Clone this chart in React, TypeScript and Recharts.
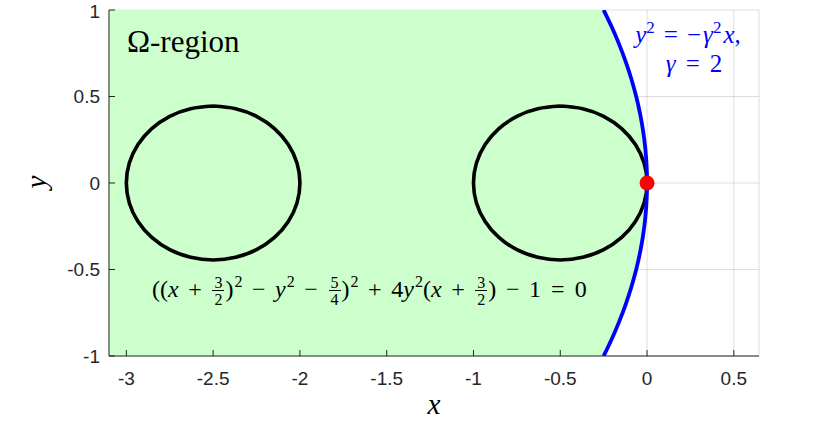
import {
  Area,
  CartesianGrid,
  ComposedChart,
  Line,
  Scatter,
  XAxis,
  YAxis,
} from "recharts";

const xTicks = [-3, -2.5, -2, -1.5, -1, -0.5, 0, 0.5];
const yTicks = [-1, -0.5, 0, 0.5, 1];

// upper half of the boundary y^2 = -4x, read from top (y = 1) to the origin
const parabolaX = [-0.25, -0.2025, -0.16, -0.1225, -0.09, -0.0625, -0.04, -0.0225, -0.01, -0.0025, 0];
const parabolaY = [1, 0.9, 0.8, 0.7, 0.6, 0.5, 0.4, 0.3, 0.2, 0.1, 0];

// closed curves, traced clockwise from the top
const leftOval = [
  { x: -2.5, y: 0.445 },
  { x: -2.3706, y: 0.4298 },
  { x: -2.25, y: 0.3854 },
  { x: -2.1464, y: 0.3147 },
  { x: -2.067, y: 0.2225 },
  { x: -2.017, y: 0.1152 },
  { x: -2.0, y: 0 },
  { x: -2.017, y: -0.1152 },
  { x: -2.067, y: -0.2225 },
  { x: -2.1464, y: -0.3147 },
  { x: -2.25, y: -0.3854 },
  { x: -2.3706, y: -0.4298 },
  { x: -2.5, y: -0.445 },
  { x: -2.6294, y: -0.4298 },
  { x: -2.75, y: -0.3854 },
  { x: -2.8536, y: -0.3147 },
  { x: -2.933, y: -0.2225 },
  { x: -2.983, y: -0.1152 },
  { x: -3.0, y: 0 },
  { x: -2.983, y: 0.1152 },
  { x: -2.933, y: 0.2225 },
  { x: -2.8536, y: 0.3147 },
  { x: -2.75, y: 0.3854 },
  { x: -2.6294, y: 0.4298 },
  { x: -2.5, y: 0.445 },
];

const rightOval = [
  { x: -0.5, y: 0.445 },
  { x: -0.3706, y: 0.4298 },
  { x: -0.25, y: 0.3854 },
  { x: -0.1464, y: 0.3147 },
  { x: -0.067, y: 0.2225 },
  { x: -0.017, y: 0.1152 },
  { x: 0, y: 0 },
  { x: -0.017, y: -0.1152 },
  { x: -0.067, y: -0.2225 },
  { x: -0.1464, y: -0.3147 },
  { x: -0.25, y: -0.3854 },
  { x: -0.3706, y: -0.4298 },
  { x: -0.5, y: -0.445 },
  { x: -0.6294, y: -0.4298 },
  { x: -0.75, y: -0.3854 },
  { x: -0.8536, y: -0.3147 },
  { x: -0.933, y: -0.2225 },
  { x: -0.983, y: -0.1152 },
  { x: -1.0, y: 0 },
  { x: -0.983, y: 0.1152 },
  { x: -0.933, y: 0.2225 },
  { x: -0.8536, y: 0.3147 },
  { x: -0.75, y: 0.3854 },
  { x: -0.6294, y: 0.4298 },
  { x: -0.5, y: 0.445 },
];

const touchPoint = [{ x: 0, y: 0 }];

const X_DOMAIN: [number, number] = [-3.1, 0.645];

const parabola = [
  ...parabolaX.map((x, i) => ({ x, y: parabolaY[i] })),
  ...parabolaX
    .slice(0, -1)
    .reverse()
    .map((x, i, arr) => ({ x, y: -parabolaY[arr.length - 1 - i] })),
];

const region = [
  { x: X_DOMAIN[0], band: [-1, 1] },
  ...parabolaX.map((x, i) => ({ x, band: [-parabolaY[i], parabolaY[i]] })),
];

const axisColor = "#262626";
const tickFont = { fontSize: 19, fontFamily: "'Liberation Sans', Arial, sans-serif", fill: axisColor };
const serif = "'Liberation Serif', 'Times New Roman', serif";

function Frac({ n, d }: { n: string; d: string }) {
  return (
    <span
      style={{
        display: "inline-flex",
        flexDirection: "column",
        alignItems: "center",
        verticalAlign: "9px",
        fontSize: 16,
        lineHeight: "13px",
        margin: "0 1px",
      }}
    >
      <span style={{ borderBottom: "0.8px solid #000", padding: "0 2px 1.4px" }}>{n}</span>
      <span style={{ paddingTop: 1.4 }}>{d}</span>
    </span>
  );
}

const Sup = ({ children }: { children: string }) => (
  <span style={{ fontSize: 16, verticalAlign: "10px", marginLeft: 1 }}>{children}</span>
);
const Op = ({ children, w = "0.4em" }: { children: string; w?: string }) => (
  <span style={{ margin: `0 ${w}` }}>{children}</span>
);

export default function App() {
  return (
    <div style={{ position: "absolute", left: 0, top: 0, width: 838, height: 423, background: "#fff" }}>
      <ComposedChart width={838} height={423} margin={{ top: 10, right: 79, bottom: 0, left: 0 }}>
        <XAxis
          dataKey="x"
          type="number"
          domain={X_DOMAIN}
          allowDataOverflow
          ticks={xTicks}
          tickFormatter={(v) => String(v)}
          height={67}
          tickSize={-6}
          tickMargin={22}
          axisLine={{ stroke: axisColor }}
          tickLine={{ stroke: axisColor }}
          tick={tickFont}
        />
        <XAxis
          xAxisId="top"
          orientation="top"
          dataKey="x"
          type="number"
          domain={X_DOMAIN}
          allowDataOverflow
          ticks={xTicks}
          height={0}
          tickSize={-6}
          tick={false}
          axisLine={{ stroke: axisColor }}
          tickLine={{ stroke: axisColor }}
        />
        <YAxis
          type="number"
          domain={[-1, 1]}
          allowDataOverflow
          ticks={yTicks}
          tickFormatter={(v) => String(v)}
          width={109}
          tickSize={-6}
          tickMargin={15}
          axisLine={{ stroke: axisColor }}
          tickLine={{ stroke: axisColor }}
          tick={tickFont}
        />
        <YAxis
          yAxisId="right"
          orientation="right"
          type="number"
          domain={[-1, 1]}
          allowDataOverflow
          ticks={yTicks}
          width={0}
          tickSize={-6}
          tick={false}
          axisLine={{ stroke: axisColor }}
          tickLine={{ stroke: axisColor }}
        />
        <Area
          data={region}
          dataKey="band"
          type="linear"
          fill="#ccffcc"
          fillOpacity={1}
          stroke="none"
          isAnimationActive={false}
        />
        <CartesianGrid stroke="#000" strokeOpacity={0.13} fill="none" />
        <Line
          data={leftOval}
          dataKey="y"
          type="natural"
          stroke="#000"
          strokeWidth={3.6}
          dot={false}
          activeDot={false}
          isAnimationActive={false}
        />
        <Line
          data={rightOval}
          dataKey="y"
          type="natural"
          stroke="#000"
          strokeWidth={3.6}
          dot={false}
          activeDot={false}
          isAnimationActive={false}
        />
        <Line
          data={parabola}
          dataKey="y"
          type="natural"
          stroke="#0000ff"
          strokeWidth={3.8}
          dot={false}
          activeDot={false}
          isAnimationActive={false}
        />
        <Scatter
          data={touchPoint}
          dataKey="y"
          fill="#ff0000"
          isAnimationActive={false}
          shape={(p: any) => <circle cx={p.cx} cy={p.cy} r={7.5} fill="#ff0000" />}
        />
      </ComposedChart>

      <svg
        width={838}
        height={423}
        style={{ position: "absolute", left: 0, top: 0, pointerEvents: "none" }}
      >
        <text x={127} y={52} fontFamily={serif} fontSize={31} fill="#000">
          Ω-region
        </text>
        <text x={688} y={43} textAnchor="middle" fontFamily={serif} fontSize={25} fill="#0000ff">
          <tspan fontStyle="italic">y</tspan>
          <tspan fontSize={17} dy={-10}>2</tspan>
          <tspan dy={10} dx={9}>=</tspan>
          <tspan dx={9}>−</tspan>
          <tspan fontStyle="italic" dx={2}>γ</tspan>
          <tspan fontSize={17} dy={-10}>2</tspan>
          <tspan dy={10} fontStyle="italic" dx={2}>x</tspan>
          <tspan>,</tspan>
        </text>
        <text x={694} y={72} textAnchor="middle" fontFamily={serif} fontSize={25} fill="#0000ff">
          <tspan fontStyle="italic">γ</tspan>
          <tspan dx={10}>=</tspan>
          <tspan dx={10}>2</tspan>
        </text>
        <text x={434} y={414} textAnchor="middle" fontFamily={serif} fontSize={29} fontStyle="italic" fill="#000">
          x
        </text>
        <text
          transform="translate(46,182) rotate(-90)"
          textAnchor="middle"
          fontFamily={serif}
          fontSize={29}
          fontStyle="italic"
          fill="#000"
        >
          y
        </text>
      </svg>

      <div
        style={{
          position: "absolute",
          left: 152,
          top: 267,
          fontFamily: serif,
          fontSize: 24,
          lineHeight: "30px",
          whiteSpace: "nowrap",
          color: "#000",
        }}
      >
        ((<i>x</i>
        <Op>+</Op>
        <Frac n="3" d="2" />)<Sup>2</Sup>
        <Op>−</Op>
        <i>y</i>
        <Sup>2</Sup>
        <Op>−</Op>
        <Frac n="5" d="4" />)<Sup>2</Sup>
        <Op>+</Op>4<i>y</i>
        <Sup>2</Sup>(<i>x</i>
        <Op>+</Op>
        <Frac n="3" d="2" />)<Op>−</Op>1<Op w="0.42em">=</Op>0
      </div>
    </div>
  );
}
